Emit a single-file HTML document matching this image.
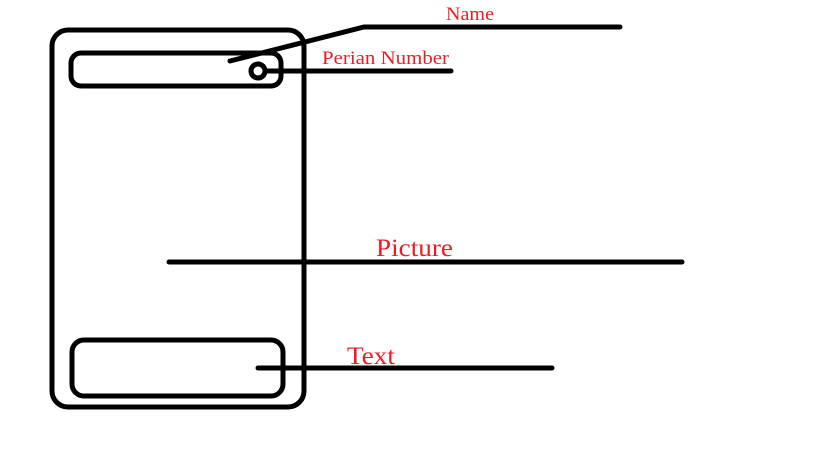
<!DOCTYPE html>
<html><head><style>
body{margin:0;background:#fff;width:819px;height:460px;overflow:hidden}
svg{display:block}
text{font-family:"Liberation Serif",serif;fill:#ed1c24}
</style></head><body>
<svg width="819" height="460" viewBox="0 0 819 460">
<g fill="none" stroke="#000" stroke-width="5" stroke-linecap="round">
<rect x="52" y="30" width="252" height="377" rx="16"/>
<rect x="71" y="53" width="210" height="33" rx="10"/>
<circle cx="258" cy="71" r="7"/>
<polyline points="230,61 364,27 620,27"/>
<line x1="265" y1="71" x2="451" y2="71"/>
<line x1="169" y1="262" x2="682" y2="262"/>
<rect x="72" y="340" width="211" height="56" rx="12"/>
<line x1="258" y1="368" x2="552" y2="368"/>
</g>
<text x="446" y="20" font-size="19" textLength="48" lengthAdjust="spacingAndGlyphs">Name</text>
<text x="322" y="64" font-size="19" textLength="127" lengthAdjust="spacingAndGlyphs">Perian Number</text>
<text x="376" y="256" font-size="25" textLength="77" lengthAdjust="spacingAndGlyphs">Picture</text>
<text x="347" y="364" font-size="25" textLength="48" lengthAdjust="spacingAndGlyphs">Text</text>
</svg>
</body></html>
